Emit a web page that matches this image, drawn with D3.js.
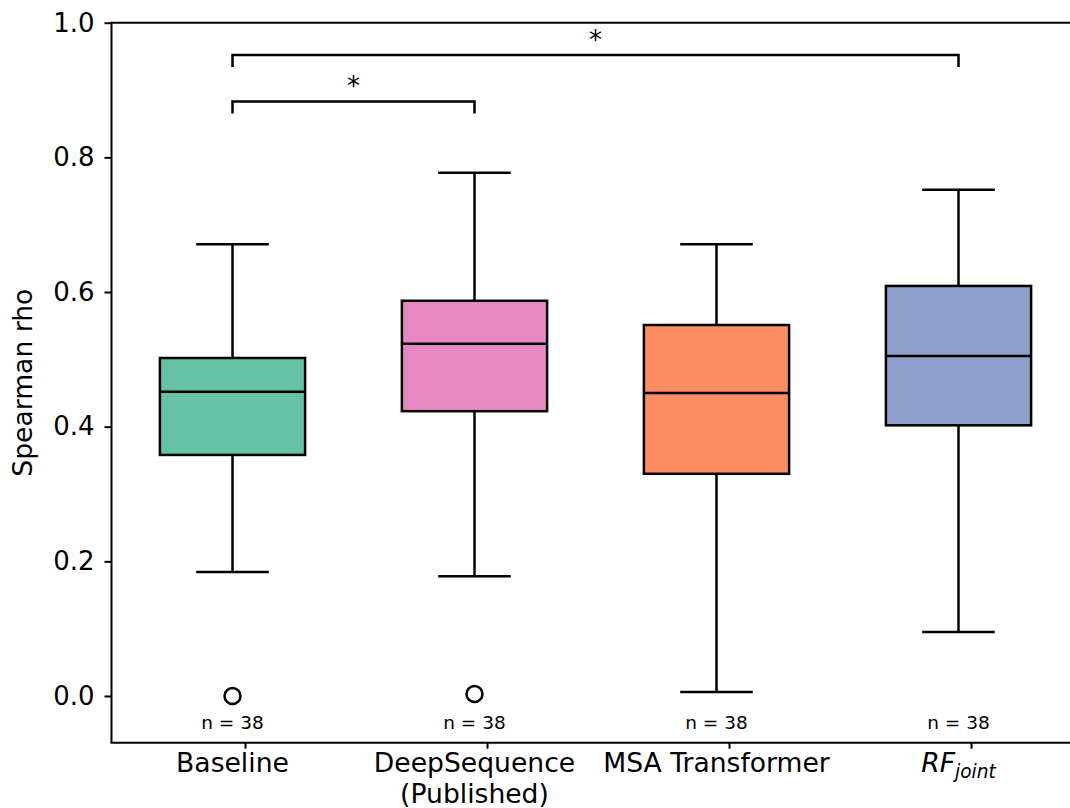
<!DOCTYPE html>
<html><head><meta charset="utf-8">
<script src="https://cdn.jsdelivr.net/npm/d3@7"></script>
<style>body{margin:0;background:#fff}svg{display:block;font-family:"DejaVu Sans",sans-serif}</style>
</head><body><svg id="c" width="1070" height="808"></svg>
<script>
const categories = ["Baseline", "DeepSequence\n(Published)", "MSA Transformer", "RF_joint"];
const whiskerLow = [0.184, 0.178, 0.006, 0.095];
const q1 = [0.358, 0.423, 0.330, 0.402];
const median = [0.452, 0.523, 0.450, 0.505];
const q3 = [0.502, 0.587, 0.551, 0.609];
const whiskerHigh = [0.671, 0.777, 0.671, 0.752];
const outliers = [[0.0], [0.003], [], []];
const counts = [38, 38, 38, 38];
const colors = ["#66c2a5", "#e78ac3", "#fc8d62", "#8da0cb"];
const yTicks = [0.0, 0.2, 0.4, 0.6, 0.8, 1.0];
const brackets = [{from: 0, to: 1, level: 0.883, label: "*"}, {from: 0, to: 3, level: 0.952, label: "*"}];

(function () {
const svg = d3.select("#c");
const mLeft = 111.5, mRight = 1079.5, mTop = 22.7, mBottom = 742.7;
const x = d3.scaleLinear().domain([0.5, 4.5]).range([mLeft, mRight]);
const y = d3.scaleLinear().domain([-0.0694, 1.0]).range([mBottom, mTop]);
const boxW = 0.6, capW = 0.3, lw = 2.5;
const g = svg.append("g");

categories.forEach((c, i) => {
  const p = i + 1;
  g.append("line").attr("x1", x(p)).attr("x2", x(p)).attr("y1", y(q1[i])).attr("y2", y(whiskerLow[i])).attr("stroke", "#000").attr("stroke-width", lw);
  g.append("line").attr("x1", x(p)).attr("x2", x(p)).attr("y1", y(q3[i])).attr("y2", y(whiskerHigh[i])).attr("stroke", "#000").attr("stroke-width", lw);
  g.append("line").attr("x1", x(p - capW / 2)).attr("x2", x(p + capW / 2)).attr("y1", y(whiskerLow[i])).attr("y2", y(whiskerLow[i])).attr("stroke", "#000").attr("stroke-width", lw);
  g.append("line").attr("x1", x(p - capW / 2)).attr("x2", x(p + capW / 2)).attr("y1", y(whiskerHigh[i])).attr("y2", y(whiskerHigh[i])).attr("stroke", "#000").attr("stroke-width", lw);
  g.append("rect").attr("x", x(p - boxW / 2)).attr("width", x(p + boxW / 2) - x(p - boxW / 2))
    .attr("y", y(q3[i])).attr("height", y(q1[i]) - y(q3[i]))
    .attr("fill", colors[i]).attr("stroke", "#000").attr("stroke-width", lw);
  g.append("line").attr("x1", x(p - boxW / 2)).attr("x2", x(p + boxW / 2)).attr("y1", y(median[i])).attr("y2", y(median[i])).attr("stroke", "#000").attr("stroke-width", lw);
  outliers[i].forEach(v => {
    g.append("circle").attr("cx", x(p)).attr("cy", y(v)).attr("r", 8).attr("fill", "none").attr("stroke", "#000").attr("stroke-width", lw);
  });
  g.append("text").attr("x", x(p)).attr("y", 729).attr("text-anchor", "middle").attr("font-size", 18.5).text("n = " + counts[i]);
});

brackets.forEach(b => {
  const x1 = x(b.from + 1), x2 = x(b.to + 1), yy = y(b.level), h = 12;
  g.append("path").attr("d", `M${x1},${yy + h}V${yy}H${x2}V${yy + h}`).attr("fill", "none").attr("stroke", "#000").attr("stroke-width", lw);
  g.append("text").attr("x", (x1 + x2) / 2).attr("y", yy - 6).attr("text-anchor", "middle").attr("font-size", 26).text(b.label);
});

const yAxis = svg.append("g").attr("transform", `translate(${mLeft},0)`)
  .call(d3.axisLeft(y).tickValues(yTicks).tickFormat(d3.format(".1f")).tickSize(7).tickPadding(10));
yAxis.select(".domain").remove();
yAxis.selectAll("line").attr("stroke", "#000").attr("stroke-width", 2);
yAxis.selectAll("text").attr("font-size", 26).attr("font-family", "DejaVu Sans").attr("fill", "#000");

const tickOff = 0.0517;
svg.append("g").attr("transform", `translate(0,${mBottom})`)
  .call(d3.axisBottom(x).tickValues([1, 2, 3, 4].map(v => v + tickOff)).tickFormat("").tickSize(6))
  .call(a => { a.select(".domain").remove(); a.selectAll("line").attr("stroke", "#000").attr("stroke-width", 2); });

categories.forEach((c, i) => {
  const p = i + 1;
  if (c === "RF_joint") {
    const t = svg.append("text").attr("x", x(p)).attr("y", 772).attr("text-anchor", "middle").attr("font-size", 26.6).attr("font-style", "italic");
    t.append("tspan").text("RF");
    t.append("tspan").attr("font-size", 18.6).attr("dy", 6).text("joint");
  } else {
    const lines = c.split("\n");
    const t = svg.append("text").attr("text-anchor", "middle").attr("font-size", 26.6);
    lines.forEach((l, k) => t.append("tspan").attr("x", x(p)).attr("y", 772 + k * 30.5).text(l));
  }
});

svg.append("line").attr("x1", mLeft).attr("x2", mLeft).attr("y1", mTop).attr("y2", mBottom).attr("stroke", "#000").attr("stroke-width", 2);
svg.append("line").attr("x1", mLeft - 1).attr("x2", mRight).attr("y1", mTop).attr("y2", mTop).attr("stroke", "#000").attr("stroke-width", 2);
svg.append("line").attr("x1", mLeft - 1).attr("x2", mRight).attr("y1", mBottom).attr("y2", mBottom).attr("stroke", "#000").attr("stroke-width", 2);
svg.append("line").attr("x1", mRight).attr("x2", mRight).attr("y1", mTop).attr("y2", mBottom).attr("stroke", "#000").attr("stroke-width", 2);

svg.append("text").attr("transform", `translate(32,${(mTop + mBottom) / 2}) rotate(-90)`).attr("text-anchor", "middle").attr("font-size", 26.6).text("Spearman rho");
})();
</script></body></html>
